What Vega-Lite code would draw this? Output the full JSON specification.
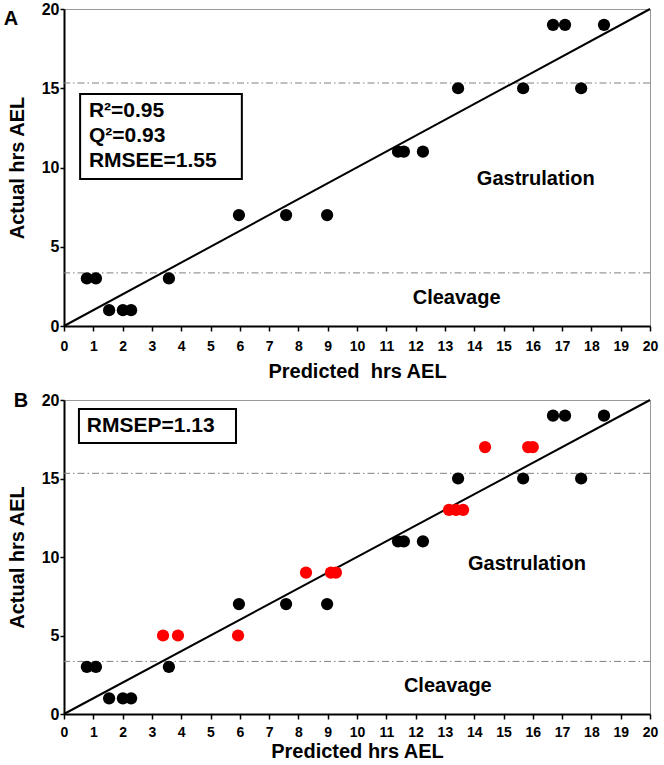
{
  "$schema": "https://vega.github.io/schema/vega-lite/v6.json",
  "padding": {"left": 3, "top": 0, "right": 5, "bottom": 2},
  "spacing": 8,
  "config": {
    "font": "Liberation Sans",
    "view": {"stroke": "#999999", "strokeWidth": 1},
    "axis": {"grid": false, "domainColor": "black", "domainWidth": 2, "tickColor": "black", "tickWidth": 1.5, "labelColor": "black", "titleColor": "black", "labelFontWeight": "bold", "titleFontWeight": "bold", "titleFontSize": 20, "labelFont": "Liberation Sans", "titleFont": "Liberation Sans"},
    "axisX": {"labelFontSize": 14, "tickSize": 5, "labelPadding": 8, "labelFlush": false, "labelOverlap": false, "titlePadding": 8},
    "axisY": {"labelFontSize": 16, "tickSize": 4, "labelPadding": 1, "labelOverlap": false, "labelFlush": false, "titlePadding": 14}
  },
  "datasets": {
    "one": [{}],
    "ptsA": [
      {"pred": 0.78, "act": 3, "set": "training"},
      {"pred": 1.09, "act": 3, "set": "training"},
      {"pred": 1.54, "act": 1, "set": "training"},
      {"pred": 2.01, "act": 1, "set": "training"},
      {"pred": 2.29, "act": 1, "set": "training"},
      {"pred": 3.58, "act": 3, "set": "training"},
      {"pred": 5.97, "act": 7, "set": "training"},
      {"pred": 7.58, "act": 7, "set": "training"},
      {"pred": 8.98, "act": 7, "set": "training"},
      {"pred": 11.40, "act": 11, "set": "training"},
      {"pred": 11.60, "act": 11, "set": "training"},
      {"pred": 12.25, "act": 11, "set": "training"},
      {"pred": 13.45, "act": 15, "set": "training"},
      {"pred": 15.67, "act": 15, "set": "training"},
      {"pred": 17.65, "act": 15, "set": "training"},
      {"pred": 16.69, "act": 19, "set": "training"},
      {"pred": 17.10, "act": 19, "set": "training"},
      {"pred": 18.43, "act": 19, "set": "training"}
    ],
    "ptsB": [
      {"pred": 0.78, "act": 3, "set": "training"},
      {"pred": 1.09, "act": 3, "set": "training"},
      {"pred": 1.54, "act": 1, "set": "training"},
      {"pred": 2.01, "act": 1, "set": "training"},
      {"pred": 2.29, "act": 1, "set": "training"},
      {"pred": 3.58, "act": 3, "set": "training"},
      {"pred": 5.97, "act": 7, "set": "training"},
      {"pred": 7.58, "act": 7, "set": "training"},
      {"pred": 8.98, "act": 7, "set": "training"},
      {"pred": 11.40, "act": 11, "set": "training"},
      {"pred": 11.60, "act": 11, "set": "training"},
      {"pred": 12.25, "act": 11, "set": "training"},
      {"pred": 13.45, "act": 15, "set": "training"},
      {"pred": 15.67, "act": 15, "set": "training"},
      {"pred": 17.65, "act": 15, "set": "training"},
      {"pred": 16.69, "act": 19, "set": "training"},
      {"pred": 17.10, "act": 19, "set": "training"},
      {"pred": 18.43, "act": 19, "set": "training"},
      {"pred": 3.38, "act": 5, "set": "test"},
      {"pred": 3.89, "act": 5, "set": "test"},
      {"pred": 5.94, "act": 5, "set": "test"},
      {"pred": 8.26, "act": 9, "set": "test"},
      {"pred": 9.11, "act": 9, "set": "test"},
      {"pred": 9.28, "act": 9, "set": "test"},
      {"pred": 13.14, "act": 13, "set": "test"},
      {"pred": 13.38, "act": 13, "set": "test"},
      {"pred": 13.62, "act": 13, "set": "test"},
      {"pred": 14.37, "act": 17, "set": "test"},
      {"pred": 15.84, "act": 17, "set": "test"},
      {"pred": 16.00, "act": 17, "set": "test"}
    ],
    "bounds": [{"act": 15.33}, {"act": 3.35}],
    "diag": [{"pred": 0, "act": 0}, {"pred": 20, "act": 20}]
  },
  "vconcat": [
    {
      "width": 586,
      "height": 317,
      "layer": [
        {
          "data": {"name": "bounds"},
          "mark": {"type": "rule", "color": "#808080", "strokeWidth": 1, "strokeDash": [7, 3, 1.5, 3]},
          "encoding": {"y": {"field": "act", "type": "quantitative", "title": "Actual hrs AEL", "scale": {"domain": [0, 20], "nice": false}, "axis": {"values": [0,2.5,5,7.5,10,12.5,15,17.5,20], "labelExpr": "datum.value % 5 === 0 ? datum.label : ''", "labelOverlap": false}}}
        },
        {
          "data": {"name": "diag"},
          "mark": {"type": "line", "color": "black", "strokeWidth": 2},
          "encoding": {
            "x": {"field": "pred", "type": "quantitative", "title": "Predicted\u00a0 hrs AEL", "scale": {"domain": [0, 20], "nice": false}, "axis": {"tickCount": 20, "labelOverlap": false}},
            "y": {"field": "act", "type": "quantitative", "title": "Actual hrs AEL", "scale": {"domain": [0, 20], "nice": false}, "axis": {"values": [0,2.5,5,7.5,10,12.5,15,17.5,20], "labelExpr": "datum.value % 5 === 0 ? datum.label : ''", "labelOverlap": false}}
          }
        },
        {
          "data": {"name": "ptsA"},
          "mark": {"type": "circle", "size": 150, "opacity": 1},
          "encoding": {
            "x": {"field": "pred", "type": "quantitative", "title": "Predicted\u00a0 hrs AEL", "scale": {"domain": [0, 20], "nice": false}, "axis": {"tickCount": 20, "labelOverlap": false}},
            "y": {"field": "act", "type": "quantitative", "title": "Actual hrs AEL", "scale": {"domain": [0, 20], "nice": false}, "axis": {"values": [0,2.5,5,7.5,10,12.5,15,17.5,20], "labelExpr": "datum.value % 5 === 0 ? datum.label : ''", "labelOverlap": false}},
            "color": {"field": "set", "type": "nominal", "scale": {"domain": ["training", "test"], "range": ["#000000", "#ff0000"]}, "legend": null}
          }
        },
        {
          "data": {"name": "one"},
          "mark": {"type": "rect", "fill": "white", "stroke": "black", "strokeWidth": 2},
          "encoding": {
            "x": {"datum": 0.55, "type": "quantitative"},
            "x2": {"datum": 6.07},
            "y": {"datum": 14.64, "type": "quantitative"},
            "y2": {"datum": 9.27}
          }
        },
        {
          "data": {"name": "one"},
          "mark": {"type": "text", "text": "R²=0.95", "align": "left", "baseline": "middle", "fontSize": 21, "fontWeight": "bold", "color": "black"},
          "encoding": {"x": {"datum": 0.85, "type": "quantitative"}, "y": {"datum": 13.56, "type": "quantitative"}}
        },
        {
          "data": {"name": "one"},
          "mark": {"type": "text", "text": "Q²=0.93", "align": "left", "baseline": "middle", "fontSize": 21, "fontWeight": "bold", "color": "black"},
          "encoding": {"x": {"datum": 0.85, "type": "quantitative"}, "y": {"datum": 11.99, "type": "quantitative"}}
        },
        {
          "data": {"name": "one"},
          "mark": {"type": "text", "text": "RMSEE=1.55", "align": "left", "baseline": "middle", "fontSize": 21, "fontWeight": "bold", "color": "black"},
          "encoding": {"x": {"datum": 0.85, "type": "quantitative"}, "y": {"datum": 10.41, "type": "quantitative"}}
        },
        {
          "data": {"name": "one"},
          "mark": {"type": "text", "text": "Gastrulation", "align": "center", "baseline": "middle", "fontSize": 20, "fontWeight": "bold", "color": "black"},
          "encoding": {"x": {"datum": 16.1, "type": "quantitative"}, "y": {"datum": 9.3, "type": "quantitative"}}
        },
        {
          "data": {"name": "one"},
          "mark": {"type": "text", "text": "Cleavage", "align": "center", "baseline": "middle", "fontSize": 20, "fontWeight": "bold", "color": "black"},
          "encoding": {"x": {"datum": 13.4, "type": "quantitative"}, "y": {"datum": 1.77, "type": "quantitative"}}
        },
        {
          "data": {"name": "one"},
          "mark": {"type": "text", "text": "A", "align": "center", "baseline": "middle", "fontSize": 20, "fontWeight": "bold", "color": "black"},
          "encoding": {"x": {"datum": -1.81, "type": "quantitative"}, "y": {"datum": 19.37, "type": "quantitative"}}
        }
      ]
    },
    {
      "width": 586,
      "height": 314,
      "layer": [
        {
          "data": {"name": "bounds"},
          "mark": {"type": "rule", "color": "#808080", "strokeWidth": 1, "strokeDash": [7, 3, 1.5, 3]},
          "encoding": {"y": {"field": "act", "type": "quantitative", "title": "Actual hrs AEL", "scale": {"domain": [0, 20], "nice": false}, "axis": {"values": [0,2.5,5,7.5,10,12.5,15,17.5,20], "labelExpr": "datum.value % 5 === 0 ? datum.label : ''", "labelOverlap": false}}}
        },
        {
          "data": {"name": "diag"},
          "mark": {"type": "line", "color": "black", "strokeWidth": 2},
          "encoding": {
            "x": {"field": "pred", "type": "quantitative", "title": "Predicted hrs AEL", "scale": {"domain": [0, 20], "nice": false}, "axis": {"tickCount": 20, "labelOverlap": false, "titlePadding": 2, "labelPadding": 6}},
            "y": {"field": "act", "type": "quantitative", "title": "Actual hrs AEL", "scale": {"domain": [0, 20], "nice": false}, "axis": {"values": [0,2.5,5,7.5,10,12.5,15,17.5,20], "labelExpr": "datum.value % 5 === 0 ? datum.label : ''", "labelOverlap": false}}
          }
        },
        {
          "data": {"name": "ptsB"},
          "mark": {"type": "circle", "size": 150, "opacity": 1},
          "encoding": {
            "x": {"field": "pred", "type": "quantitative", "title": "Predicted hrs AEL", "scale": {"domain": [0, 20], "nice": false}, "axis": {"tickCount": 20, "labelOverlap": false, "titlePadding": 2, "labelPadding": 6}},
            "y": {"field": "act", "type": "quantitative", "title": "Actual hrs AEL", "scale": {"domain": [0, 20], "nice": false}, "axis": {"values": [0,2.5,5,7.5,10,12.5,15,17.5,20], "labelExpr": "datum.value % 5 === 0 ? datum.label : ''", "labelOverlap": false}},
            "color": {"field": "set", "type": "nominal", "scale": {"domain": ["training", "test"], "range": ["#000000", "#ff0000"]}, "legend": null}
          }
        },
        {
          "data": {"name": "one"},
          "mark": {"type": "rect", "fill": "white", "stroke": "black", "strokeWidth": 2},
          "encoding": {
            "x": {"datum": 0.51, "type": "quantitative"},
            "x2": {"datum": 5.87},
            "y": {"datum": 19.43, "type": "quantitative"},
            "y2": {"datum": 17.26}
          }
        },
        {
          "data": {"name": "one"},
          "mark": {"type": "text", "text": "RMSEP=1.13", "align": "left", "baseline": "middle", "fontSize": 21, "fontWeight": "bold", "color": "black"},
          "encoding": {"x": {"datum": 0.78, "type": "quantitative"}, "y": {"datum": 18.34, "type": "quantitative"}}
        },
        {
          "data": {"name": "one"},
          "mark": {"type": "text", "text": "Gastrulation", "align": "center", "baseline": "middle", "fontSize": 20, "fontWeight": "bold", "color": "black"},
          "encoding": {"x": {"datum": 15.8, "type": "quantitative"}, "y": {"datum": 9.55, "type": "quantitative"}}
        },
        {
          "data": {"name": "one"},
          "mark": {"type": "text", "text": "Cleavage", "align": "center", "baseline": "middle", "fontSize": 20, "fontWeight": "bold", "color": "black"},
          "encoding": {"x": {"datum": 13.1, "type": "quantitative"}, "y": {"datum": 1.78, "type": "quantitative"}}
        },
        {
          "data": {"name": "one"},
          "mark": {"type": "text", "text": "B", "align": "center", "baseline": "middle", "fontSize": 20, "fontWeight": "bold", "color": "black"},
          "encoding": {"x": {"datum": -1.47, "type": "quantitative"}, "y": {"datum": 19.94, "type": "quantitative"}}
        }
      ]
    }
  ]
}
